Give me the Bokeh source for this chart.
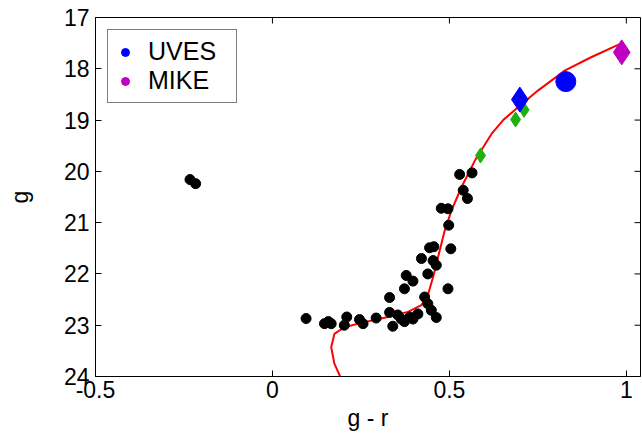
import math
from bokeh.plotting import figure
from bokeh.models import FixedTicker, Range1d, Legend, LegendItem
from bokeh.embed import file_html
from bokeh.resources import INLINE

# Black photometric points (g - r, g)
star_gr = [-0.233, -0.217, 0.095, 0.147, 0.166, 0.158, 0.203, 0.210, 0.246, 0.256,
           0.293, 0.331, 0.331, 0.340, 0.354, 0.364, 0.373, 0.373, 0.378, 0.397,
           0.397, 0.411, 0.421, 0.430, 0.439, 0.439, 0.449, 0.463, 0.444, 0.456,
           0.454, 0.463, 0.496, 0.504, 0.498, 0.477, 0.496, 0.539, 0.551, 0.529,
           0.564, 0.388]
star_g = [20.16, 20.24, 22.87, 22.97, 22.97, 22.93, 23.00, 22.84, 22.89, 22.97,
          22.86, 22.46, 22.75, 23.02, 22.80, 22.88, 22.29, 22.93, 22.03, 22.14,
          22.88, 22.78, 21.70, 22.45, 22.00, 22.58, 22.71, 22.85, 21.49, 21.47,
          21.74, 21.83, 22.29, 21.51, 21.05, 20.72, 20.73, 20.37, 20.53, 20.06,
          20.03, 22.84]

# Isochrone (red line)
iso_gr = [0.194, 0.175, 0.166, 0.175, 0.203, 0.260, 0.326, 0.383, 0.421, 0.440,
          0.454, 0.468, 0.487, 0.506, 0.534, 0.572, 0.619, 0.652, 0.694, 0.751,
          0.827, 0.902, 0.978, 0.990]
iso_g = [24.04, 23.75, 23.43, 23.17, 23.04, 22.94, 22.84, 22.74, 22.61, 22.39,
         22.06, 21.67, 21.15, 20.76, 20.31, 19.79, 19.27, 19.00, 18.75, 18.42,
         18.03, 17.77, 17.53, 17.50]

# Green diamonds
green_gr = [0.588, 0.687, 0.711]
green_g = [19.69, 18.99, 18.80]

# UVES targets
uves_d_gr = [0.699]
uves_d_g = [18.60]
uves_c_gr = [0.829]
uves_c_g = [18.25]

# MIKE target
mike_gr = [0.987]
mike_g = [17.68]

x_ticks = [-0.5, 0, 0.5, 1]
x_tick_labels = ["-0.5", "0", "0.5", "1"]
y_ticks = [17, 18, 19, 20, 21, 22, 23, 24]
X_MIN, X_MAX = -0.5, 1.04
Y_TOP, Y_BOTTOM = 17, 24

FONT = "Liberation Sans"
FS = "23px"

p = figure(width=642, height=441, output_backend="svg", toolbar_location=None,
           x_range=Range1d(X_MIN, X_MAX), y_range=Range1d(Y_BOTTOM, Y_TOP),
           min_border_left=95, min_border_right=2, min_border_top=17, min_border_bottom=65)
p.xgrid.visible = False
p.ygrid.visible = False
p.outline_line_color = "black"
p.outline_line_width = 1
p.background_fill_color = "white"
p.border_fill_color = "white"

for ax in p.xaxis + p.yaxis:
    ax.major_tick_in = 6
    ax.major_tick_out = 0
    ax.minor_tick_line_color = None
    ax.major_label_text_font = FONT
    ax.major_label_text_font_size = FS
    ax.major_label_text_color = "black"
    ax.axis_label_text_font = FONT
    ax.axis_label_text_font_size = FS
    ax.axis_label_text_font_style = "normal"
    ax.axis_label_text_color = "black"
    ax.axis_line_color = "black"
    ax.major_tick_line_color = "black"

p.xaxis.ticker = FixedTicker(ticks=x_ticks)
p.xaxis.major_label_overrides = dict(zip(x_ticks, x_tick_labels))
p.yaxis.ticker = FixedTicker(ticks=y_ticks)
p.xaxis.axis_label = "g - r"
p.yaxis.axis_label = "g"
p.xaxis.major_label_standoff = 4
p.yaxis.major_label_standoff = 6
p.xaxis.axis_label_standoff = 4
p.yaxis.axis_label_standoff = 28

# mirrored inward ticks on the right and top edges
p.ray(x=[X_MAX] * len(y_ticks), y=y_ticks, length=6, length_units="screen",
      angle=math.pi, line_color="black", line_width=1)
p.ray(x=x_ticks, y=[Y_TOP] * len(x_ticks), length=6, length_units="screen",
      angle=-math.pi / 2, line_color="black", line_width=1)

p.line(iso_gr, iso_g, line_color="#ff0000", line_width=2)
p.scatter(star_gr, star_g, size=10, marker="circle", fill_color="black", line_color="black")
p.scatter(green_gr, green_g, size=15, marker="diamond", fill_color="#20b010", line_color="#20b010")

# legend proxies (small dots hidden under the large markers)
lu = p.scatter(uves_c_gr, uves_c_g, size=8, marker="circle", fill_color="#0000ff", line_color="#0000ff")
lm = p.scatter(mike_gr, mike_g, size=8, marker="circle", fill_color="#c000c0", line_color="#c000c0")

p.scatter(uves_d_gr, uves_d_g, size=25, marker="diamond", fill_color="#0000ff", line_color="#0000ff")
p.scatter(uves_c_gr, uves_c_g, size=20, marker="circle", fill_color="#0000ff", line_color="#0000ff")
p.scatter(mike_gr, mike_g, size=25, marker="diamond", fill_color="#c000c0", line_color="#c000c0")

legend = Legend(items=[LegendItem(label="UVES", renderers=[lu]),
                       LegendItem(label="MIKE", renderers=[lm])],
                location="top_left")
legend.margin = 12
legend.padding = 7
legend.spacing = 0
legend.glyph_width = 20
legend.glyph_height = 20
legend.label_standoff = 13
legend.label_width = 81
legend.label_text_font = FONT
legend.label_text_font_size = "25px"
legend.label_text_color = "black"
legend.border_line_color = "black"
legend.border_line_width = 1
legend.background_fill_alpha = 1
p.add_layout(legend)

open("out.html", "w").write(file_html(p, INLINE))
